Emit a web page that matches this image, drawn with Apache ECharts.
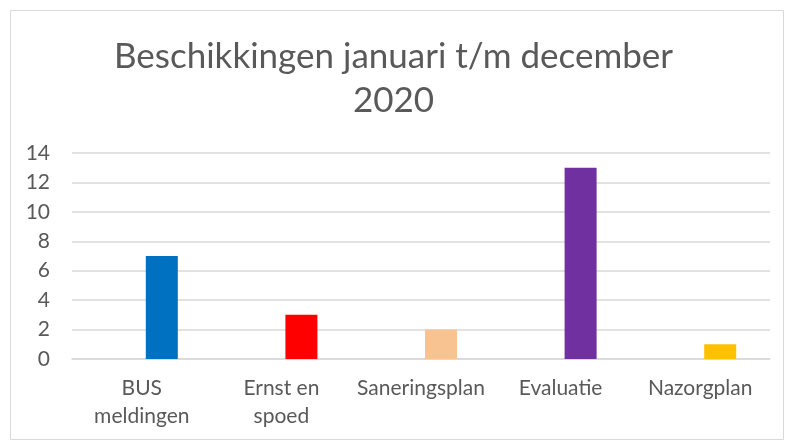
<!DOCTYPE html>
<html>
<head>
<meta charset="utf-8">
<script src="https://cdn.jsdelivr.net/npm/echarts@6/dist/echarts.min.js"></script>
<style>html,body{margin:0;padding:0;background:#fff}#c{width:787px;height:444px}</style>
</head>
<body>
<div id="c"></div>
<script>
const titleText = "Beschikkingen januari t/m december\n2020";
const categories = ["BUS\nmeldingen", "Ernst en\nspoed", "Saneringsplan", "Evaluatie", "Nazorgplan"];
const values = [7, 3, 2, 13, 1];
const barColors = ["#0070C0", "#FF0000", "#F8C291", "#7030A0", "#FFC000"];
const yTicks = { min: 0, max: 14, interval: 2 };

const chart = echarts.init(document.getElementById('c'), null, { renderer: 'canvas' });
const font = "Lato, 'Open Sans', sans-serif";
chart.setOption({
  animation: false,
  backgroundColor: '#fff',
  graphic: [{
    type: 'rect', left: 8, top: 8,
    shape: { width: 773, height: 429 },
    style: { fill: 'none', stroke: '#d9d9d9', lineWidth: 1 }, silent: true
  }],
  title: {
    text: titleText, left: 'center', top: 30,
    textStyle: { fontFamily: font, fontSize: 35, fontWeight: 'normal', color: '#595959', lineHeight: 44 }
  },
  grid: { left: 72, right: 17, top: 153, bottom: 85 },
  xAxis: {
    type: 'category', data: categories,
    axisLine: { lineStyle: { color: '#d9d9d9', width: 1.5 } },
    axisTick: { show: false },
    axisLabel: { fontFamily: font, fontSize: 21, color: '#595959', lineHeight: 28, margin: 15, interval: 0 }
  },
  yAxis: {
    type: 'value', min: yTicks.min, max: yTicks.max, interval: yTicks.interval,
    axisLine: { show: false }, axisTick: { show: false },
    splitLine: { lineStyle: { color: '#d9d9d9', width: 1.5 } },
    axisLabel: { fontFamily: font, fontSize: 21, color: '#595959', margin: 22 }
  },
  series: [
    { type: 'bar', data: categories.map(() => null), barWidth: 32, barGap: '25%' },
    {
      type: 'bar', barWidth: 32, barGap: '25%',
      data: values.map((v, i) => ({ value: v, itemStyle: { color: barColors[i] } }))
    }
  ]
});
</script>
</body>
</html>
